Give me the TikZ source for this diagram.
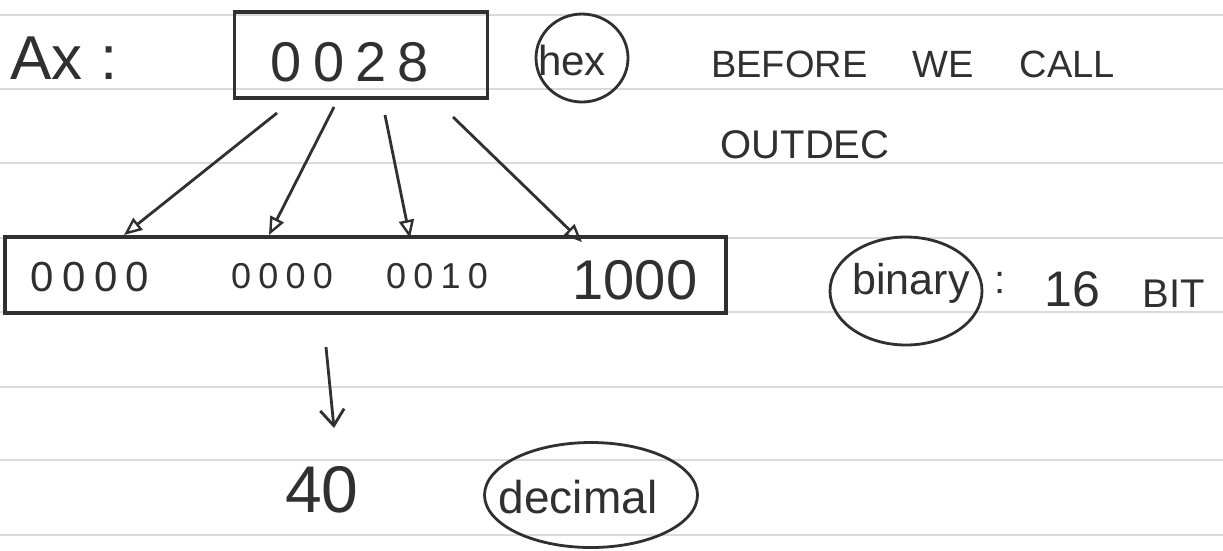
\documentclass[tikz,border=0pt]{standalone}
\usepackage{fontspec}
\setmainfont{Liberation Sans}
\newfontfamily\spacedfont[LetterSpace=20]{Liberation Sans}
\usetikzlibrary{arrows.meta,shapes.geometric}
\definecolor{ink}{HTML}{303030}
\definecolor{rulegray}{HTML}{DADADA}
\newcommand\myfs[1]{\fontsize{#1}{#1}\selectfont}
\begin{document}
\begin{tikzpicture}[x=1pt,y=-1pt,
  ruled/.style={draw=rulegray, line width=1.5pt},
  box/.style={draw=ink, line width=3.5pt, rectangle, inner sep=0pt},
  txt/.style={text=ink, inner sep=0pt, anchor=center},
  ring/.style={draw=ink, line width=2.8pt, ellipse, inner sep=0pt},
  fan/.style={draw=ink, line width=2.8pt, -{Triangle[open,length=18pt,width=15pt,line width=2.4pt]}},
  down/.style={draw=ink, line width=2.8pt, -{Straight Barb[length=16pt,width=24pt,line width=2.8pt]}}
]
\fill[white] (0,0) rectangle (1223,550);
\useasboundingbox (0,0) rectangle (1223,550);
% ruled paper
\foreach \yy in {15,89,163,238,312,387,460,535}
  \draw[ruled] (0,\yy) -- (1223,\yy);

% top row
\node[txt] (ax) at (64,58) {\myfs{62}Ax :};
\node[box, minimum width=253pt, minimum height=86pt] (hexbox) at (361,55) {};
\node[txt] (hexval) at (350,62) {\spacedfont\myfs{56}0028};
\node[ring, minimum width=92pt, minimum height=88pt] (hexring) at (582,58) {};
\node[txt] (hexlbl) at (572,60) {\myfs{42}hex};
\node[txt] (before) at (913,64) {\myfs{38}BEFORE\hspace{1.2em}WE\hspace{1.2em}CALL};
\node[txt] (outdec) at (805,145) {\myfs{40}OUTDEC};

% binary row
\node[box, minimum width=721pt, minimum height=76pt] (binbox) at (365.5,275) {};
\node[txt] (b1) at (90,277) {\spacedfont\myfs{42}0000};
\node[txt] (b2) at (282,276) {\spacedfont\myfs{36}0000};
\node[txt] (b3) at (437,276) {\spacedfont\myfs{36}0010};
\node[txt] (b4) at (635,280) {\myfs{56}1000};
\node[ring, minimum width=152pt, minimum height=108pt] (binring) at (906,291) {};
\node[txt] (binlbl) at (911,283) {\myfs{43}binary};
\node[txt] (colon) at (1000,283) {\myfs{40}:};
\node[txt] (sixteen) at (1072,289) {\myfs{50}16};
\node[txt] (bit) at (1174,294) {\myfs{40}BIT};

% decimal row
\node[txt] (forty) at (322,490) {\myfs{66}40};
\node[ring, minimum width=213pt, minimum height=105pt] (decring) at (591,495) {};
\node[txt] (declbl) at (578,497) {\myfs{46}decimal};

% arrow ends
\coordinate (s1) at (277,113); \coordinate (t1) at (124,235);
\coordinate (s2) at (334,107); \coordinate (t2) at (269,235);
\coordinate (s3) at (385,115); \coordinate (t3) at (410,238);
\coordinate (s4) at (453,117); \coordinate (t4) at (582,242);
\coordinate (sd) at (326,347); \coordinate (td) at (334,428);

\draw[fan] (s1) -- (t1);
\draw[fan] (s2) -- (t2);
\draw[fan] (s3) -- (t3);
\draw[fan] (s4) -- (t4);
\draw[down] (sd) -- (td);
\end{tikzpicture}
\end{document}
